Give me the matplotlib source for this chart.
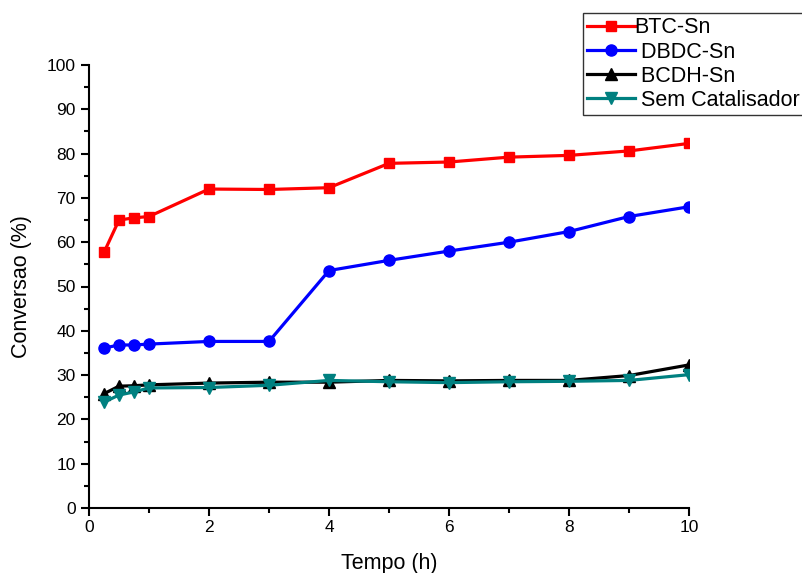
import matplotlib
matplotlib.use('Agg')
import matplotlib.pyplot as plt
from matplotlib.ticker import MultipleLocator

plt.rcParams['font.family'] = ['Liberation Sans', 'DejaVu Sans']

# dados
tempo = [0.25, 0.5, 0.75, 1, 2, 3, 4, 5, 6, 7, 8, 9, 10]
btc_sn = [57.7, 65.0, 65.5, 65.8, 72.0, 71.9, 72.3, 77.8, 78.1, 79.2, 79.6, 80.6, 82.3]
dbdc_sn = [36.1, 36.8, 36.8, 37.0, 37.6, 37.6, 53.6, 55.9, 58.0, 60.0, 62.4, 65.8, 68.0]
bcdh_sn = [25.8, 27.5, 27.6, 27.8, 28.2, 28.4, 28.4, 28.8, 28.7, 28.8, 28.8, 29.9, 32.3]
sem_cat = [23.9, 25.5, 26.2, 27.1, 27.2, 27.7, 28.8, 28.5, 28.3, 28.5, 28.6, 28.8, 30.1]

fig = plt.figure(figsize=(8.03, 5.73), dpi=100)
ax = fig.add_axes([89/803, 65/573, 600/803, 443/573])

lw = 2.3
ax.plot(tempo, btc_sn, '-s', color='#ff0000', lw=lw, ms=7, label='BTC-Sn')
ax.plot(tempo, dbdc_sn, '-o', color='#0000ff', lw=lw, ms=8, label=' DBDC-Sn')
ax.plot(tempo, bcdh_sn, '-^', color='black', lw=lw, ms=8, label=' BCDH-Sn')
ax.plot(tempo, sem_cat, '-v', color='#008080', lw=lw, ms=8, label=' Sem Catalisador')

ax.set_xlim(0, 10)
ax.set_ylim(0, 100)
ax.xaxis.set_major_locator(MultipleLocator(2))
ax.xaxis.set_minor_locator(MultipleLocator(1))
ax.yaxis.set_major_locator(MultipleLocator(10))
ax.yaxis.set_minor_locator(MultipleLocator(5))

for s in ['top', 'right']:
    ax.spines[s].set_visible(False)
for s in ['left', 'bottom']:
    ax.spines[s].set_linewidth(1.5)
ax.tick_params(which='major', direction='out', length=6, width=1.5, labelsize=12.5)
ax.tick_params(axis='x', which='major', pad=2.5)
ax.tick_params(which='minor', direction='out', length=3.5, width=1.5)

ax.set_xlabel('Tempo (h)', fontsize=15.5, labelpad=13)
ax.set_ylabel('Conversao (%)', fontsize=15.5, labelpad=11)

leg = fig.legend(loc='upper left', bbox_to_anchor=(583/803, 1 - 13/573),
                 fontsize=15.5, frameon=True, fancybox=False, edgecolor='black',
                 borderaxespad=0, handlelength=2.2, handletextpad=0.0,
                 labelspacing=0.15, borderpad=0.2)
leg.get_frame().set_linewidth(1.0)

fig.savefig('out.png', dpi=100)
